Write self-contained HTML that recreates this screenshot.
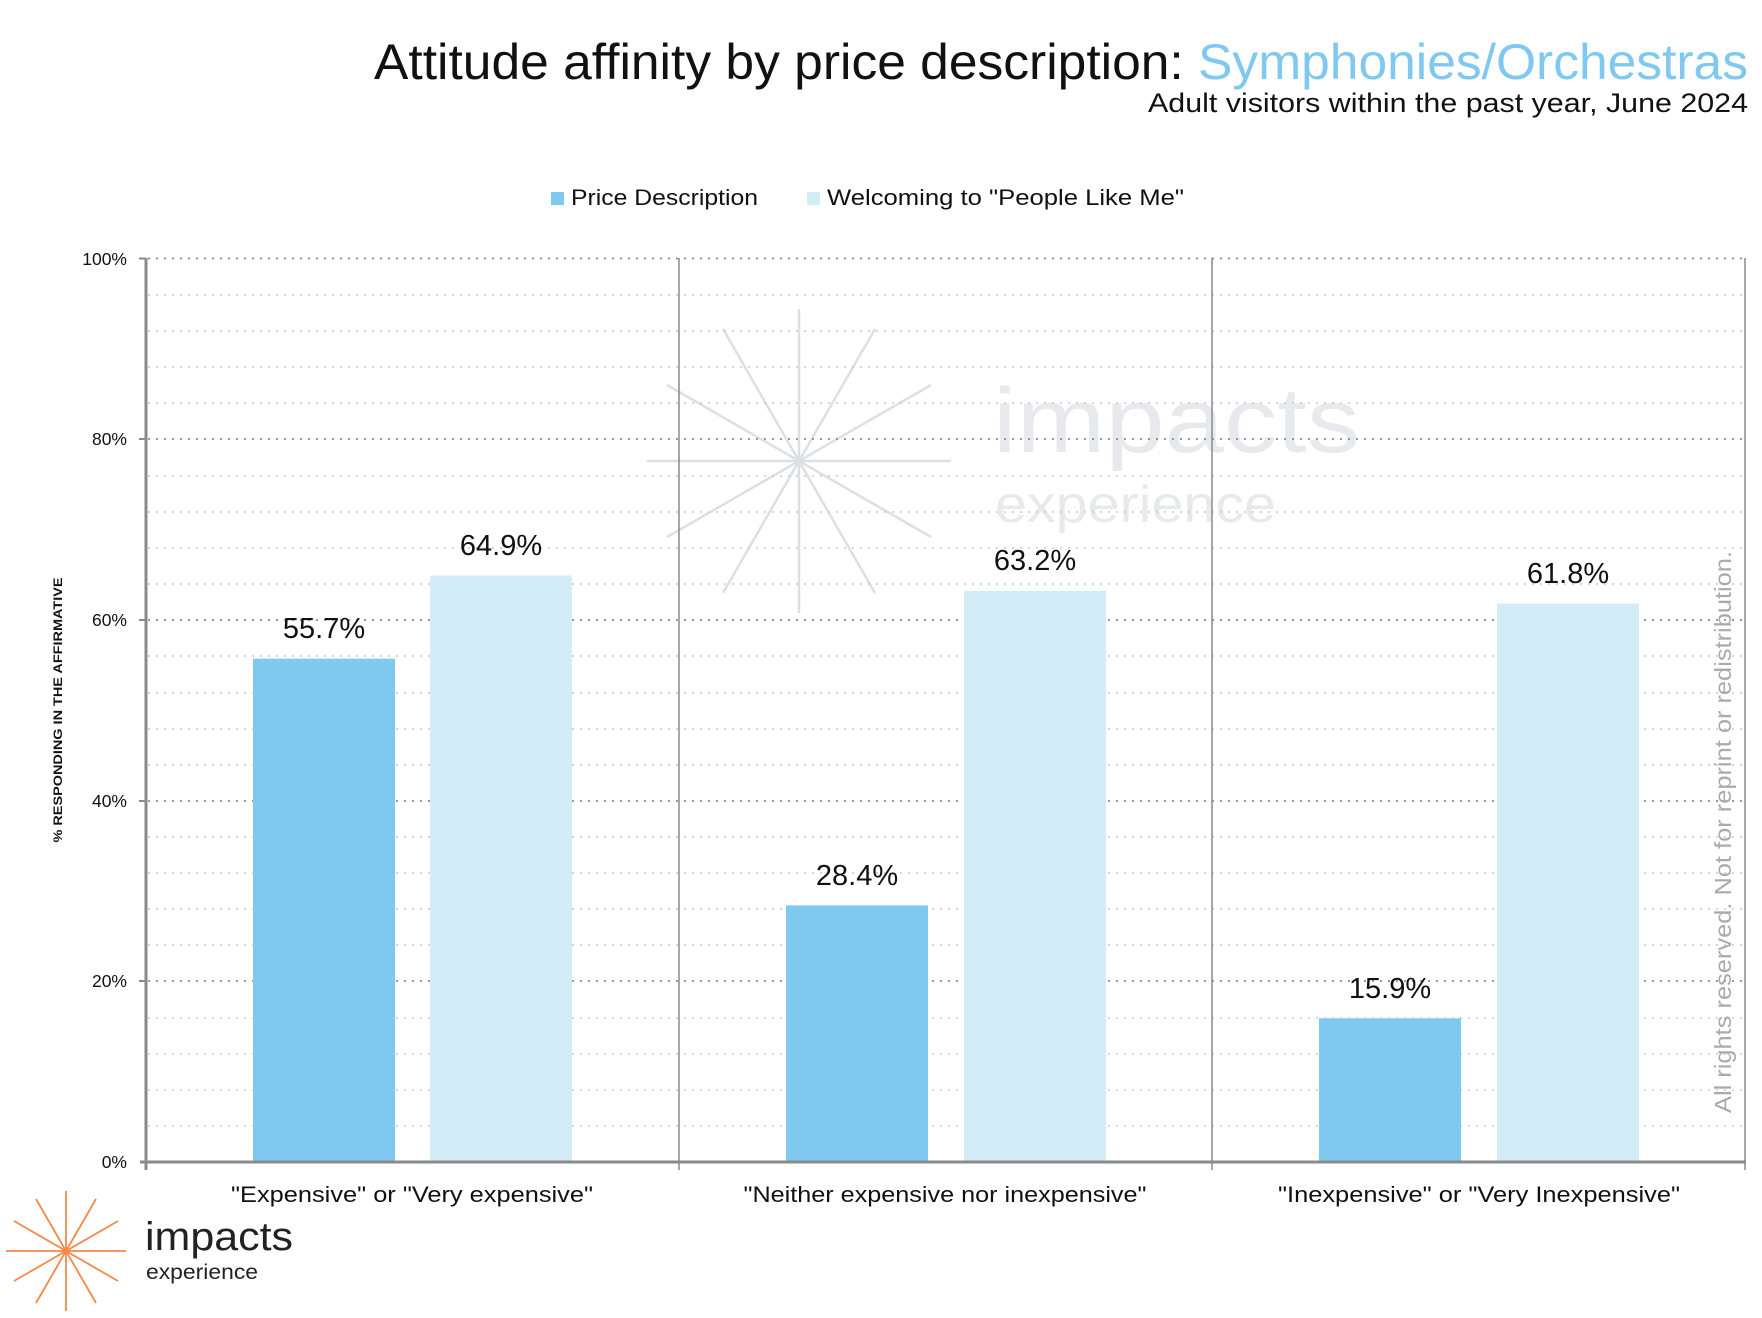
<!DOCTYPE html>
<html><head><meta charset="utf-8"><style>
html,body{margin:0;padding:0;background:#fff;}
svg{display:block;font-family:"Liberation Sans",sans-serif;}
</style></head><body>
<svg width="1762" height="1318" viewBox="0 0 1762 1318" xmlns="http://www.w3.org/2000/svg">
<rect width="1762" height="1318" fill="#fff"/>
<text x="1748" y="79" text-anchor="end" font-size="50" fill="#111" textLength="1374" lengthAdjust="spacingAndGlyphs">Attitude affinity by price description: <tspan fill="#7fc8ef">Symphonies/Orchestras</tspan></text>
<text x="1748" y="112" text-anchor="end" font-size="27" fill="#111" textLength="600" lengthAdjust="spacingAndGlyphs">Adult visitors within the past year, June 2024</text>
<rect x="551" y="192" width="13" height="13" fill="#7fc8ef"/>
<text x="571" y="205" font-size="22" fill="#111" textLength="187" lengthAdjust="spacingAndGlyphs">Price Description</text>
<rect x="807" y="192" width="13" height="13" fill="#d2ecf8"/>
<text x="827" y="205" font-size="22" fill="#111" textLength="357" lengthAdjust="spacingAndGlyphs">Welcoming to "People Like Me"</text>
<g stroke="#dcdfe3" stroke-width="2.5" fill="none">
<line x1="799" y1="309" x2="799" y2="613"/>
<line x1="647" y1="461" x2="951" y2="461"/>
<line x1="723" y1="329" x2="875" y2="593"/>
<line x1="875" y1="329" x2="723" y2="593"/>
<line x1="667" y1="385" x2="931" y2="537"/>
<line x1="931" y1="385" x2="667" y2="537"/>
</g>
<text x="993" y="452" font-size="92" fill="#e7e9ed" textLength="367" lengthAdjust="spacingAndGlyphs">impacts</text>
<text x="995" y="522" font-size="52" fill="#e7e9ed" textLength="281" lengthAdjust="spacingAndGlyphs">experience</text>
<g stroke="#c8c8c8" stroke-width="1.5" stroke-dasharray="2,6">
<line x1="148" x2="1745" y1="1126" y2="1126"/><line x1="148" x2="1745" y1="1090" y2="1090"/><line x1="148" x2="1745" y1="1054" y2="1054"/><line x1="148" x2="1745" y1="1018" y2="1018"/>
<line x1="148" x2="1745" y1="945" y2="945"/><line x1="148" x2="1745" y1="909" y2="909"/><line x1="148" x2="1745" y1="873" y2="873"/><line x1="148" x2="1745" y1="837" y2="837"/>
<line x1="148" x2="1745" y1="765" y2="765"/><line x1="148" x2="1745" y1="729" y2="729"/><line x1="148" x2="1745" y1="693" y2="693"/><line x1="148" x2="1745" y1="656" y2="656"/>
<line x1="148" x2="1745" y1="584" y2="584"/><line x1="148" x2="1745" y1="548" y2="548"/><line x1="148" x2="1745" y1="512" y2="512"/><line x1="148" x2="1745" y1="476" y2="476"/>
<line x1="148" x2="1745" y1="403" y2="403"/><line x1="148" x2="1745" y1="367" y2="367"/><line x1="148" x2="1745" y1="331" y2="331"/><line x1="148" x2="1745" y1="295" y2="295"/>
</g>
<g stroke="#8a8a8a" stroke-width="1.8" stroke-dasharray="2,6">
<line x1="148" x2="1745" y1="258.5" y2="258.5"/><line x1="148" x2="1745" y1="439" y2="439"/><line x1="148" x2="1745" y1="620" y2="620"/><line x1="148" x2="1745" y1="801" y2="801"/><line x1="148" x2="1745" y1="981" y2="981"/>
</g>
<g>
<rect x="253" y="658.7" width="142" height="503.3" fill="#7fc8ef"/>
<rect x="430" y="575.6" width="142" height="586.4" fill="#d2ecf8"/>
<rect x="786" y="905.4" width="142" height="256.6" fill="#7fc8ef"/>
<rect x="964" y="591" width="142" height="571" fill="#d2ecf8"/>
<rect x="1319" y="1018.3" width="142" height="143.7" fill="#7fc8ef"/>
<rect x="1497" y="603.6" width="142" height="558.4" fill="#d2ecf8"/>
</g>
<g font-size="29" fill="#111" text-anchor="middle">
<text x="324" y="638">55.7%</text>
<text x="501" y="555">64.9%</text>
<text x="857" y="885">28.4%</text>
<text x="1035" y="570">63.2%</text>
<text x="1390" y="998">15.9%</text>
<text x="1568" y="583">61.8%</text>
</g>
<g stroke="#8a8a8a" stroke-width="1.5">
<line x1="679" y1="258" x2="679" y2="1170"/>
<line x1="1212" y1="258" x2="1212" y2="1170"/>
<line x1="1745" y1="258" x2="1745" y2="1170"/>
</g>
<g stroke="#8a8a8a" stroke-width="3">
<line x1="146" y1="258" x2="146" y2="1170"/>
<line x1="140" y1="1162" x2="1746" y2="1162"/>
</g>
<g stroke="#8a8a8a" stroke-width="2">
<line x1="139" x2="146" y1="258.5" y2="258.5"/><line x1="139" x2="146" y1="439" y2="439"/><line x1="139" x2="146" y1="620" y2="620"/><line x1="139" x2="146" y1="801" y2="801"/><line x1="139" x2="146" y1="981" y2="981"/>
</g>
<g font-size="17.5" fill="#111" text-anchor="end">
<text x="127" y="265">100%</text>
<text x="127" y="445">80%</text>
<text x="127" y="626">60%</text>
<text x="127" y="807">40%</text>
<text x="127" y="987">20%</text>
<text x="127" y="1168">0%</text>
</g>
<text transform="translate(62,710) rotate(-90)" text-anchor="middle" font-size="11.5" font-weight="bold" fill="#111" textLength="265" lengthAdjust="spacingAndGlyphs">% RESPONDING IN THE AFFIRMATIVE</text>
<g font-size="22" fill="#111" text-anchor="middle">
<text x="412" y="1202" textLength="362" lengthAdjust="spacingAndGlyphs">"Expensive" or "Very expensive"</text>
<text x="945" y="1202" textLength="403" lengthAdjust="spacingAndGlyphs">"Neither expensive nor inexpensive"</text>
<text x="1479" y="1202" textLength="402" lengthAdjust="spacingAndGlyphs">"Inexpensive" or "Very Inexpensive"</text>
</g>
<text transform="translate(1731,832) rotate(-90)" text-anchor="middle" font-size="23" fill="#aaa" textLength="562" lengthAdjust="spacingAndGlyphs">All rights reserved. Not for reprint or redistribution.</text>
<g stroke="#f4884a" stroke-width="1.8">
<line x1="66" y1="1191" x2="66" y2="1311"/>
<line x1="6" y1="1251" x2="126" y2="1251"/>
<line x1="36" y1="1199" x2="96" y2="1303"/>
<line x1="96" y1="1199" x2="36" y2="1303"/>
<line x1="14" y1="1221" x2="118" y2="1281"/>
<line x1="118" y1="1221" x2="14" y2="1281"/>
</g>
<text x="145" y="1250" font-size="40" fill="#222" textLength="148" lengthAdjust="spacingAndGlyphs">impacts</text>
<text x="146" y="1279" font-size="21" fill="#222" textLength="112" lengthAdjust="spacingAndGlyphs">experience</text>
</svg>
</body></html>
